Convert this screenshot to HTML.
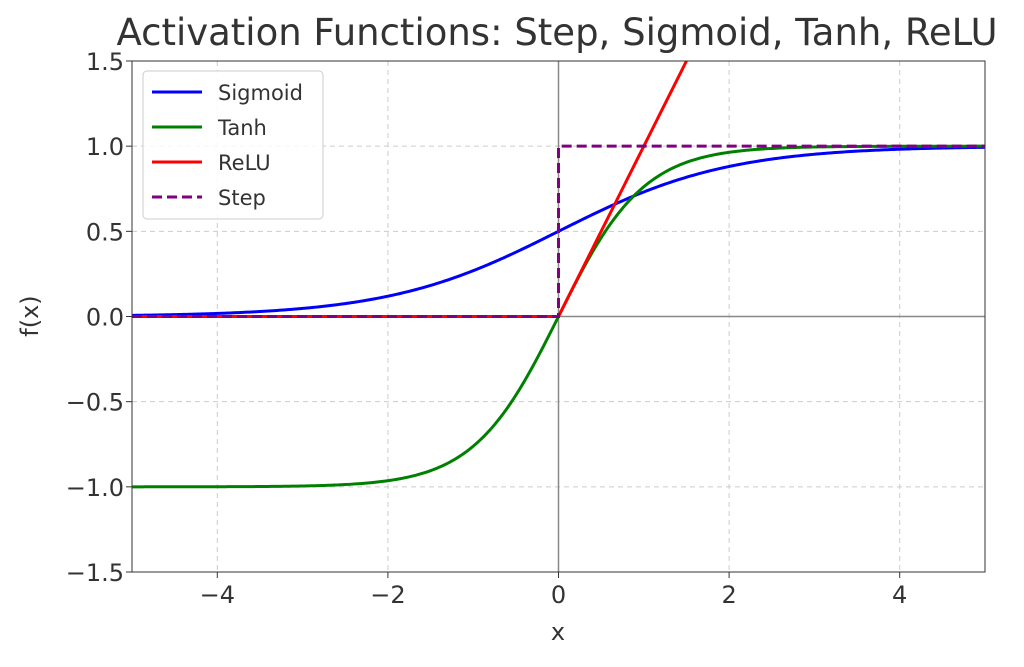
<!DOCTYPE html>
<html><head><meta charset="utf-8"><style>
html,body{margin:0;padding:0;background:#fff;}
svg text{font-family:"DejaVu Sans","Liberation Sans",sans-serif;fill:#333;}
</style></head><body>
<svg id="chart" width="1024" height="662" viewBox="0 0 1024 662" xmlns="http://www.w3.org/2000/svg">
<text x="557" y="45" text-anchor="middle" font-size="37">Activation Functions: Step, Sigmoid, Tanh, ReLU</text>
<g id="grid"></g>
<g id="series"></g>
<g id="axes"></g>
<text x="558" y="640" text-anchor="middle" font-size="24">x</text>
<text x="38" y="316" text-anchor="middle" font-size="24" transform="rotate(-90 38 316)">f(x)</text>
<g>
<rect x="143" y="71" width="180" height="148" rx="4" fill="#fff" fill-opacity="0.85" stroke="#ccc"/>
<g><line x1="152" y1="92" x2="202" y2="92" stroke="#0000ff" stroke-width="3"/><text x="218" y="100" font-size="21">Sigmoid</text></g>
<g><line x1="152" y1="127" x2="202" y2="127" stroke="#008000" stroke-width="3"/><text x="218" y="135" font-size="21">Tanh</text></g>
<g><line x1="152" y1="162" x2="202" y2="162" stroke="#ff0000" stroke-width="3"/><text x="218" y="170" font-size="21">ReLU</text></g>
<g><line x1="152" y1="197" x2="202" y2="197" stroke="#800080" stroke-width="3" stroke-dasharray="10,5"/><text x="218" y="205" font-size="21">Step</text></g>
</g>
</svg>
<script>
const xTicks=[-4,-2,0,2,4];
const yTicks=[-1.5,-1.0,-0.5,0.0,0.5,1.0,1.5];
const yTickLabels=["\u22121.5","\u22121.0","\u22120.5","0.0","0.5","1.0","1.5"];
const xTickLabels=["\u22124","\u22122","0","2","4"];
const xDomain=[-5,5], yDomain=[-1.5,1.5];
const sampleCount=401;
const L=132,R=985,T=61,B=572;
const sx=v=>L+(v-xDomain[0])/(xDomain[1]-xDomain[0])*(R-L);
const sy=v=>B-(v-yDomain[0])/(yDomain[1]-yDomain[0])*(B-T);
const NS="http://www.w3.org/2000/svg";
function mk(t,a,p){const e=document.createElementNS(NS,t);for(const k in a)e.setAttribute(k,a[k]);p.appendChild(e);return e;}
const grid=document.getElementById('grid'),axes=document.getElementById('axes'),ser=document.getElementById('series');
xTicks.forEach((v,i)=>{const g=mk('line',{x1:sx(v),x2:sx(v),y1:T,y2:B,stroke:'#ccc','stroke-dasharray':'5,4'},grid);

const t=mk('text',{x:sx(v),y:B+31,'text-anchor':'middle','font-size':'24'},axes);t.textContent=xTickLabels[i];

mk('line',{x1:sx(v),x2:sx(v),y1:B,y2:B+6,stroke:'#333'},axes);});
yTicks.forEach((v,i)=>{const g=mk('line',{x1:L,x2:R,y1:sy(v),y2:sy(v),stroke:'#ccc','stroke-dasharray':'5,4'},grid);

const t=mk('text',{x:L-8,y:sy(v)+9,'text-anchor':'end','font-size':'24'},axes);t.textContent=yTickLabels[i];

mk('line',{x1:L-6,x2:L,y1:sy(v),y2:sy(v),stroke:'#333'},axes);});
const zx=mk('line',{x1:sx(0),x2:sx(0),y1:T,y2:B,stroke:'#888','stroke-width':1.5},grid);

const zy=mk('line',{x1:L,x2:R,y1:sy(0),y2:sy(0),stroke:'#888','stroke-width':1.5},grid);

const clip=mk('clipPath',{id:'pc'},document.getElementById('chart'));mk('rect',{x:L,y:T,width:R-L,height:B-T},clip);
const xs=[];for(let i=0;i<sampleCount;i++)xs.push(xDomain[0]+i*(xDomain[1]-xDomain[0])/(sampleCount-1));
const sigmoid=xs.map(x=>1/(1+Math.exp(-x)));
const tanh=xs.map(x=>Math.tanh(x));
const relu=xs.map(x=>Math.max(0,x));
const step=xs.map(x=>x>=0?1:0);
function path(ys,stepMode){let d='';xs.forEach((x,i)=>{if(stepMode&&i>0&&ys[i]!==ys[i-1])d+='L'+sx(x)+','+sy(ys[i-1]);d+=(i?'L':'M')+sx(x)+','+sy(ys[i]);});return d;}
[['sigmoid-line',sigmoid,'#0000ff',false],['tanh-line',tanh,'#008000',false],['relu-line',relu,'#ff0000',false],['step-line',step,'#800080',true]].forEach(s=>{
const p=mk('path',{d:path(s[1],s[3]),fill:'none',stroke:s[2],'stroke-width':3,'clip-path':'url(#pc)'},ser);
if(s[3])p.setAttribute('stroke-dasharray','10,5');
});
mk('rect',{x:L,y:T,width:R-L,height:B-T,fill:'none',stroke:'#333','stroke-width':1},axes);
</script>
</body></html>
